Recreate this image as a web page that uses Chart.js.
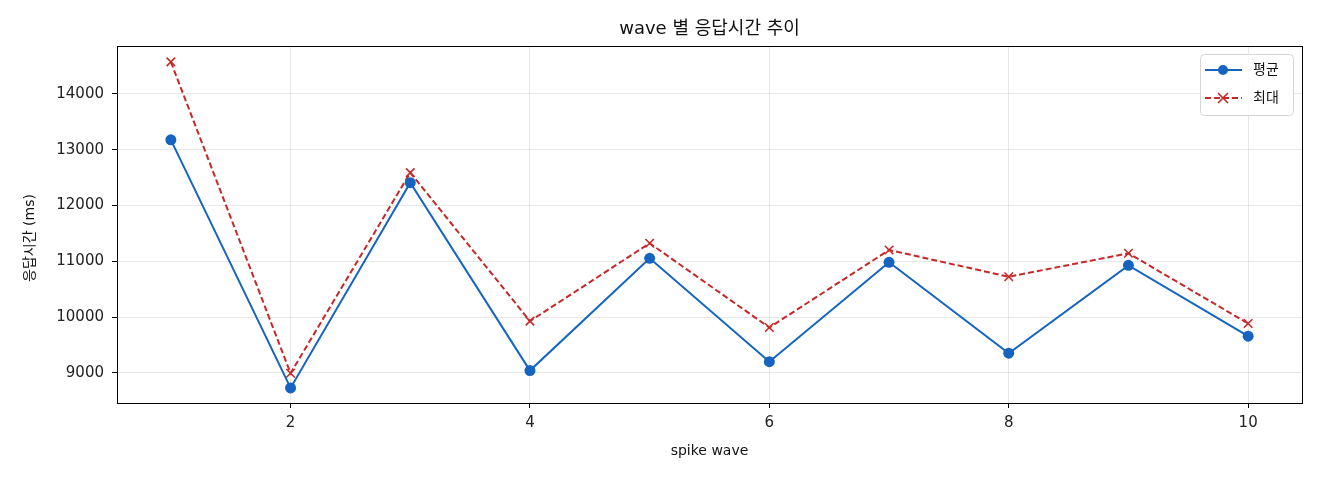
<!DOCTYPE html>
<html>
<head>
<meta charset="utf-8">
<script src="https://cdn.jsdelivr.net/npm/chart.js@4.4.1/dist/chart.umd.min.js"></script>
<style>
  html, body { margin: 0; padding: 0; background: #fff; }
  #wrap { width: 1320px; height: 480px; position: relative; }
</style>
</head>
<body>
<div id="wrap"><canvas id="waveChart"></canvas></div>
<script>
const FONT = "'DejaVu Sans', 'Noto Sans CJK KR', sans-serif";

// ---------- DATA ----------
const waves = [1, 2, 3, 4, 5, 6, 7, 8, 9, 10];
const avgMs = [13178, 8730, 12410, 9041, 11054, 9201, 10982, 9353, 10928, 9658];
const maxMs = [14575, 8993, 12590, 9928, 11324, 9813, 11203, 10723, 11144, 9885];
const xTicks = [2, 4, 6, 8, 10];
const yTicks = [9000, 10000, 11000, 12000, 13000, 14000];

const BLUE = "#1565c0";
const RED = "#c62828";

// ---------- PLUGINS ----------
const frameAndText = {
  id: "frameAndText",
  afterDraw(chart) {
    const { ctx, chartArea: a } = chart;
    ctx.save();
    ctx.strokeStyle = "#000";
    ctx.lineWidth = 1;
    ctx.strokeRect(a.left + 0.5, a.top + 0.5, a.right - a.left, a.bottom - a.top);

    // title
    ctx.fillStyle = "#111";
    ctx.font = "18px " + FONT;
    ctx.textAlign = "center";
    ctx.textBaseline = "middle";
    ctx.fillText("wave 별 응답시간 추이", (a.left + a.right) / 2, 29);

    // y axis label
    ctx.save();
    ctx.translate(30, 238);
    ctx.rotate(-Math.PI / 2);
    ctx.font = "14px " + FONT;
    ctx.fillText("응답시간 (ms)", 0, 0);
    ctx.restore();

    // legend box (upper right)
    const bx = 1200, by = 54, bw = 93, bh = 61;
    ctx.fillStyle = "rgba(255,255,255,0.85)";
    ctx.strokeStyle = "#d6d6d6";
    ctx.beginPath();
    ctx.roundRect(bx + 0.5, by + 0.5, bw, bh, 4);
    ctx.fill();
    ctx.stroke();

    const rows = [
      { label: "평균", color: BLUE, dash: [], marker: "circle", y: by + 16 },
      { label: "최대", color: RED, dash: [6, 3], marker: "x", y: by + 44 },
    ];
    rows.forEach((r) => {
      ctx.strokeStyle = r.color;
      ctx.lineWidth = 2;
      ctx.setLineDash(r.dash);
      ctx.beginPath();
      ctx.moveTo(bx + 5, r.y);
      ctx.lineTo(bx + 42, r.y);
      ctx.stroke();
      ctx.setLineDash([]);
      const cx = bx + 23;
      if (r.marker === "circle") {
        ctx.fillStyle = r.color;
        ctx.beginPath();
        ctx.arc(cx, r.y, 5, 0, Math.PI * 2);
        ctx.fill();
      } else {
        ctx.lineWidth = 1.6;
        ctx.beginPath();
        ctx.moveTo(cx - 5, r.y - 5);
        ctx.lineTo(cx + 5, r.y + 5);
        ctx.moveTo(cx + 5, r.y - 5);
        ctx.lineTo(cx - 5, r.y + 5);
        ctx.stroke();
      }
      ctx.fillStyle = "#111";
      ctx.font = "14px " + FONT;
      ctx.textAlign = "left";
      ctx.textBaseline = "middle";
      ctx.fillText(r.label, bx + 53, r.y);
    });
    ctx.restore();
  },
};

// ---------- CHART ----------
const ctx = document.getElementById("waveChart").getContext("2d");
new Chart(ctx, {
  type: "line",
  data: {
    datasets: [
      {
        label: "평균",
        data: waves.map((w, i) => ({ x: w, y: avgMs[i] })),
        borderColor: BLUE,
        backgroundColor: BLUE,
        borderWidth: 2,
        pointStyle: "circle",
        pointRadius: 5.5,
        pointBorderWidth: 0,
        tension: 0,
      },
      {
        label: "최대",
        data: waves.map((w, i) => ({ x: w, y: maxMs[i] })),
        borderColor: RED,
        backgroundColor: RED,
        borderWidth: 2,
        borderDash: [6, 3],
        pointStyle: "crossRot",
        pointRadius: 6,
        pointBorderWidth: 1.6,
        tension: 0,
      },
    ],
  },
  options: {
    responsive: true,
    maintainAspectRatio: false,
    animation: false,
    layout: { padding: { top: 46, right: 18, left: 0, bottom: 0 } },
    plugins: {
      legend: { display: false },
      title: { display: false },
      tooltip: { enabled: false },
    },
    scales: {
      x: {
        type: "linear",
        min: 0.55,
        max: 10.45,
        afterBuildTicks: (s) => { s.ticks = xTicks.map((v) => ({ value: v })); },
        afterFit: (s) => { s.height = 77; },
        ticks: { color: "#222", font: { family: FONT, size: 15 }, padding: 6, callback: (v) => String(v) },
        grid: { color: "rgba(0,0,0,0.09)", tickColor: "#000", tickLength: 5, tickWidth: 1 },
        border: { display: false },
        title: {
          display: true,
          text: "spike wave",
          color: "#111",
          font: { family: FONT, size: 14 },
          padding: { top: 0, bottom: 20 },
        },
      },
      y: {
        type: "linear",
        min: 8460,
        max: 14860,
        afterBuildTicks: (s) => { s.ticks = yTicks.map((v) => ({ value: v })); },
        afterFit: (s) => { s.width = 117; },
        ticks: { color: "#222", font: { family: FONT, size: 15 }, padding: 8, callback: (v) => String(v) },
        grid: { color: "rgba(0,0,0,0.09)", tickColor: "#000", tickLength: 5, tickWidth: 1 },
        border: { display: false },
      },
    },
  },
  plugins: [frameAndText],
});
</script>
</body>
</html>
